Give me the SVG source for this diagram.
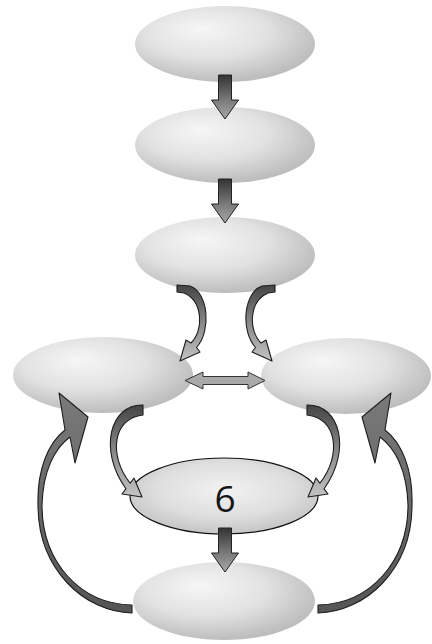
<svg xmlns="http://www.w3.org/2000/svg" width="432" height="644" viewBox="0 0 432 644">
  <defs>
    <radialGradient id="blob" cx="0.42" cy="0.38" r="0.62" fx="0.36" fy="0.3">
      <stop offset="0" stop-color="#f6f6f6"/>
      <stop offset="0.55" stop-color="#e2e2e2"/>
      <stop offset="1" stop-color="#bdbdbd"/>
    </radialGradient>
    <radialGradient id="core" cx="0.5" cy="0.42" r="0.6">
      <stop offset="0" stop-color="#f2f2f2"/>
      <stop offset="0.6" stop-color="#dedede"/>
      <stop offset="1" stop-color="#c2c2c2"/>
    </radialGradient>
    <linearGradient id="down" x1="0" y1="0" x2="0" y2="1">
      <stop offset="0" stop-color="#333"/>
      <stop offset="0.55" stop-color="#777"/>
      <stop offset="1" stop-color="#a8a8a8"/>
    </linearGradient>
    <linearGradient id="bend" x1="0" y1="0" x2="0" y2="1">
      <stop offset="0" stop-color="#444"/>
      <stop offset="0.5" stop-color="#888"/>
      <stop offset="1" stop-color="#c4c4c4"/>
    </linearGradient>
    <linearGradient id="loop" x1="0" y1="1" x2="0" y2="0">
      <stop offset="0" stop-color="#555"/>
      <stop offset="1" stop-color="#7a7a7a"/>
    </linearGradient>
    <path id="dropArrow" d="M-6.5,0 L6.5,0 L6.5,25 L13.5,25 L0,44 L-13.5,25 L-6.5,25 Z"/>
    <path id="splitArrow" d="M177,285 L190,286 C208,292 212,330 196.5,347.5 L200,352 L180,361 L186,340 L191,343 C204,330 203,301 184,293 L177,292 Z"/>
    <path id="mergeArrow" d="M143,405 C110,404 98,450 125.9,488.8 L122,494 L142,497 L134,478 L130.1,483.2 C108,455 113,418 143,415 Z"/>
    <path id="loopArrow" d="M132,613 C85,612 38,570 38,505 C37,470 48,443 65,430 L59,393 L88,417 L75,463 L70,437 C55,448 43,470 42,505 C42,562 80,604 132,605 Z"/>
  </defs>
  <style>
    .blob { fill: url(#blob); }
    .core { fill: url(#core); stroke: #111; stroke-width: 1.2; }
    .drop { fill: url(#down); stroke: #222; stroke-width: 1; }
    .bend { fill: url(#bend); stroke: #1e1e1e; stroke-width: 1.1; stroke-linejoin: round; }
    .loop { fill: url(#loop); stroke: #1e1e1e; stroke-width: 1.1; stroke-linejoin: round; }
    .both { fill: #a9a9a9; stroke: #333; stroke-width: 1; }
    .label { font-family: "Open Sans", "Liberation Sans", sans-serif; font-size: 37px; fill: #151515; text-anchor: middle; }
  </style>

  <rect width="432" height="644" fill="#fff"/>

  <!-- nodes -->
  <g id="node1"><ellipse class="blob" cx="225" cy="44" rx="90" ry="38"/></g>
  <g id="node2"><ellipse class="blob" cx="225" cy="145" rx="90" ry="38"/></g>
  <g id="node3"><ellipse class="blob" cx="225" cy="255" rx="90" ry="38"/></g>
  <g id="node4"><ellipse class="blob" cx="103" cy="375" rx="90" ry="38"/></g>
  <g id="node5"><ellipse class="blob" cx="346" cy="376" rx="85" ry="38"/></g>
  <g id="node7"><ellipse class="blob" cx="224" cy="601" rx="91" ry="39"/></g>
  <g id="node6">
    <ellipse class="core" cx="224" cy="496" rx="94" ry="38"/>
    <text class="label" x="225" y="512">6</text>
  </g>

  <!-- connectors -->
  <g id="connectors">
    <!-- straight downward steps -->
    <use href="#dropArrow" class="drop" transform="translate(225,75)"/>
    <use href="#dropArrow" class="drop" transform="translate(225,179)"/>
    <use href="#dropArrow" class="drop" transform="translate(225,528)"/>

    <!-- two-way link between the side nodes -->
    <path class="both" d="M185,380.5 L203,372 L203,376.5 L248,376.5 L248,372 L265,380.5 L248,389 L248,384.5 L203,384.5 L203,389 Z"/>

    <!-- node3 splits to both sides -->
    <use href="#splitArrow" class="bend"/>
    <use href="#splitArrow" class="bend" transform="translate(452,0) scale(-1,1)"/>

    <!-- side nodes merge into node6 -->
    <use href="#mergeArrow" class="bend"/>
    <use href="#mergeArrow" class="bend" transform="translate(450,0) scale(-1,1)"/>

    <!-- feedback loops from the bottom node back up -->
    <use href="#loopArrow" class="loop"/>
    <use href="#loopArrow" class="loop" transform="translate(450,0) scale(-1,1)"/>
  </g>
</svg>
